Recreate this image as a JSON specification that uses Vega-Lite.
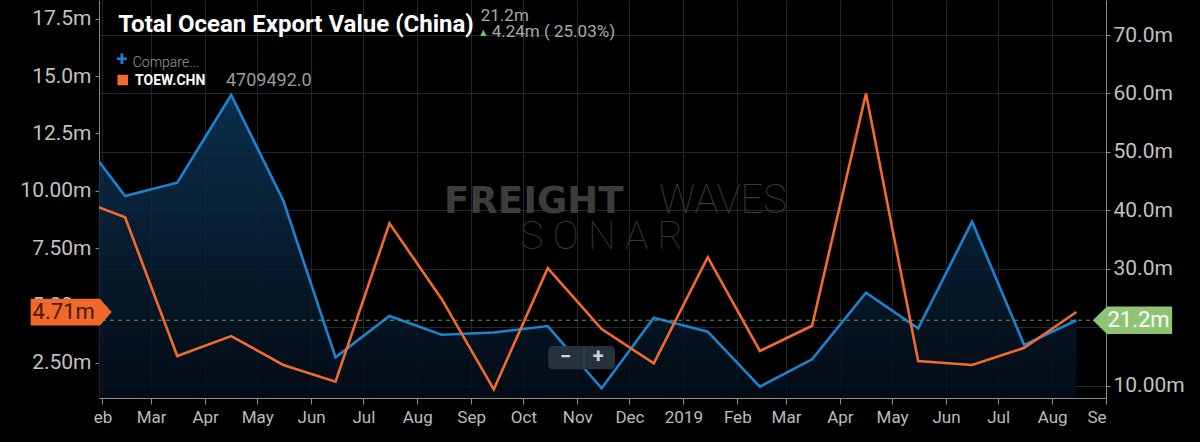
{
  "$schema": "https://vega.github.io/schema/vega-lite/v6.json",
  "width": 1007,
  "height": 398,
  "autosize": "none",
  "padding": {"left": 99, "top": 0, "right": 94, "bottom": 44},
  "background": "#000000",
  "config": {
    "view": {"stroke": null},
    "axis": {
      "labelFont": "Roboto",
      "labelColor": "#c2c2c2",
      "domainColor": "#8a8a8a",
      "tickColor": "#8a8a8a",
      "gridColor": "#1d2833",
      "zindex": 0
    }
  },
  "datasets": {
    "ocean": [
      {"date": "2018-01-15", "exports": 54190000, "toew": 9710000},
      {"date": "2018-02-14", "exports": 42460000, "toew": 8840000},
      {"date": "2018-03-16", "exports": 44730000, "toew": 2790000},
      {"date": "2018-04-16", "exports": 59740000, "toew": 3660000},
      {"date": "2018-05-16", "exports": 41650000, "toew": 2400000},
      {"date": "2018-06-15", "exports": 14860000, "toew": 1670000},
      {"date": "2018-07-16", "exports": 21920000, "toew": 8580000},
      {"date": "2018-08-15", "exports": 18730000, "toew": 5280000},
      {"date": "2018-09-14", "exports": 19100000, "toew": 1340000},
      {"date": "2018-10-15", "exports": 20210000, "toew": 6620000},
      {"date": "2018-11-15", "exports": 9560000, "toew": 3970000},
      {"date": "2018-12-15", "exports": 21630000, "toew": 2470000},
      {"date": "2019-01-15", "exports": 19240000, "toew": 7100000},
      {"date": "2019-02-14", "exports": 9830000, "toew": 3010000},
      {"date": "2019-03-16", "exports": 14520000, "toew": 4110000},
      {"date": "2019-04-16", "exports": 25910000, "toew": 14240000},
      {"date": "2019-05-16", "exports": 19820000, "toew": 2570000},
      {"date": "2019-06-16", "exports": 38060000, "toew": 2400000},
      {"date": "2019-07-16", "exports": 16960000, "toew": 3150000},
      {"date": "2019-08-15", "exports": 21200000, "toew": 4709492}
    ]
  },
  "layer": [
    {
      "layer": [
        {
          "data": {"name": "ocean"},
          "mark": {
            "type": "area",
            "clip": true,
            "opacity": 0.85,
            "fill": {
              "gradient": "linear", "x1": 0, "y1": 0, "x2": 0, "y2": 1,
              "stops": [
                {"offset": 0, "color": "#0d3658"},
                {"offset": 0.5, "color": "#071d31"},
                {"offset": 1, "color": "#020810"}
              ]
            }
          },
          "encoding": {
            "x": {
              "field": "date", "type": "temporal",
              "scale": {"type": "utc", "domain": [{"year": 2018, "month": 1, "date": 30, "utc": true}, {"year": 2019, "month": 9, "date": 1, "utc": true}]},
              "axis": {
                "title": null, "grid": true, "tickSize": 6, "labelPadding": 5, "labelFontSize": 17, "labelColor": "#bcbcbc",
                "values": [
                  {"year": 2018, "month": 2, "date": 1, "utc": true}, {"year": 2018, "month": 3, "date": 1, "utc": true},
                  {"year": 2018, "month": 4, "date": 1, "utc": true}, {"year": 2018, "month": 5, "date": 1, "utc": true},
                  {"year": 2018, "month": 6, "date": 1, "utc": true}, {"year": 2018, "month": 7, "date": 1, "utc": true},
                  {"year": 2018, "month": 8, "date": 1, "utc": true}, {"year": 2018, "month": 9, "date": 1, "utc": true},
                  {"year": 2018, "month": 10, "date": 1, "utc": true}, {"year": 2018, "month": 11, "date": 1, "utc": true},
                  {"year": 2018, "month": 12, "date": 1, "utc": true}, {"year": 2019, "month": 1, "date": 1, "utc": true},
                  {"year": 2019, "month": 2, "date": 1, "utc": true}, {"year": 2019, "month": 3, "date": 1, "utc": true},
                  {"year": 2019, "month": 4, "date": 1, "utc": true}, {"year": 2019, "month": 5, "date": 1, "utc": true},
                  {"year": 2019, "month": 6, "date": 1, "utc": true}, {"year": 2019, "month": 7, "date": 1, "utc": true},
                  {"year": 2019, "month": 8, "date": 1, "utc": true}, {"year": 2019, "month": 9, "date": 1, "utc": true}
                ],
                "labelExpr": "datum.index == 0 ? 'eb' : datum.index == 1 ? 'Se' : (utcmonth(datum.value) == 0 ? utcFormat(datum.value, '%Y') : utcFormat(datum.value, '%b'))",
                "labelAlign": {"condition": {"test": "datum.index == 1", "value": "right"}, "value": "center"}
              }
            },
            "y": {
              "field": "exports", "type": "quantitative",
              "scale": {"domain": [7896000, 75988000], "nice": false, "zero": false},
              "axis": {
                "title": null, "orient": "right", "grid": true, "tickSize": 4, "labelPadding": 3, "labelFontSize": 21,
                "values": [10000000, 20000000, 30000000, 40000000, 50000000, 60000000, 70000000],
                "labelExpr": "datum.value == 10000000 ? '10.00m' : replace(format(datum.value, '.3s'), 'M', 'm')"
              }
            }
          }
        },
        {
          "data": {"values": [{"label": "FREIGHT"}]},
          "mark": {"type": "text", "align": "left", "baseline": "alphabetic", "font": "DejaVu Sans", "fontWeight": "bold", "fontSize": 37, "color": "#3c3c3c"},
          "encoding": {
            "x": {"datum": {"year": 2018, "month": 8, "date": 16, "hours": 10, "utc": true}, "type": "temporal"},
            "y": {"datum": 39598000, "type": "quantitative"},
            "text": {"field": "label"}
          }
        },
        {
          "data": {"values": [{"label": "WAVES"}]},
          "mark": {"type": "text", "align": "right", "baseline": "alphabetic", "font": "Roboto", "fontWeight": 100, "fontSize": 40, "color": "#3a3a3a"},
          "encoding": {
            "x": {"datum": {"year": 2019, "month": 3, "date": 1, "hours": 14, "utc": true}, "type": "temporal"},
            "y": {"datum": 39598000, "type": "quantitative"},
            "text": {"field": "label"}
          }
        },
        {
          "data": {"values": [{"label": "S O N A R"}]},
          "mark": {"type": "text", "align": "center", "baseline": "alphabetic", "font": "Roboto", "fontWeight": 100, "fontSize": 39, "color": "#363636"},
          "encoding": {
            "x": {"datum": {"year": 2018, "month": 11, "date": 15, "utc": true}, "type": "temporal"},
            "y": {"datum": 33336000, "type": "quantitative"},
            "text": {"field": "label"}
          }
        },
        {
          "data": {"name": "ocean"},
          "mark": {"type": "line", "clip": true, "color": "#1b84d2", "strokeWidth": 2.6},
          "encoding": {
            "x": {"field": "date", "type": "temporal"},
            "y": {"field": "exports", "type": "quantitative"}
          }
        },
        {
          "data": {"values": [{"last": 21200000}]},
          "mark": {"type": "rule", "color": "#6a9a44", "strokeWidth": 1, "strokeDash": [4, 4]},
          "encoding": {
            "y": {"field": "last", "type": "quantitative"}
          }
        },
        {
          "data": {"values": [{"last": 21200000}]},
          "mark": {"type": "point", "filled": true, "opacity": 1, "color": "#8ec474", "size": 6288, "shape": "M -1 0 L -0.64 -0.344 L 1 -0.344 L 1 0.344 L -0.64 0.344 Z"},
          "encoding": {
            "x": {"datum": {"year": 2019, "month": 9, "date": 16, "hours": 5, "utc": true}, "type": "temporal"},
            "y": {"field": "last", "type": "quantitative"}
          }
        },
        {
          "data": {"values": [{"last": 21200000, "label": "21.2m"}]},
          "mark": {"type": "text", "align": "center", "baseline": "middle", "font": "Roboto", "fontSize": 22, "color": "#ffffff"},
          "encoding": {
            "x": {"datum": {"year": 2019, "month": 9, "date": 19, "hours": 17, "utc": true}, "type": "temporal"},
            "y": {"field": "last", "type": "quantitative"},
            "text": {"field": "label"}
          }
        }
      ]
    },
    {
      "layer": [
        {
          "data": {"name": "ocean"},
          "mark": {"type": "line", "clip": true, "color": "#f26a2d", "strokeWidth": 2.6},
          "encoding": {
            "x": {"field": "date", "type": "temporal"},
            "y": {
              "field": "toew", "type": "quantitative",
              "scale": {"domain": [960500, 18318000], "nice": false, "zero": false},
              "axis": {
                "title": null, "orient": "left", "grid": false, "tickSize": 4, "labelPadding": 4, "labelFontSize": 21,
                "values": [2500000, 5000000, 7500000, 10000000, 12500000, 15000000, 17500000],
                "labelExpr": "datum.value == 10000000 ? '10.00m' : replace(format(datum.value, '.3s'), 'M', 'm')"
              }
            }
          }
        },
        {
          "data": {"values": [{"latest": 4709492}]},
          "mark": {"type": "point", "filled": true, "opacity": 1, "color": "#f0692c", "size": 6561, "shape": "M -1 -0.33 L 0.71 -0.33 L 1 0 L 0.71 0.33 L -1 0.33 Z"},
          "encoding": {
            "x": {"datum": {"year": 2018, "month": 1, "date": 14, "utc": true}, "type": "temporal"},
            "y": {"field": "latest", "type": "quantitative"}
          }
        },
        {
          "data": {"values": [{"latest": 4709492, "label": "4.71m"}]},
          "mark": {"type": "text", "align": "center", "baseline": "middle", "font": "Roboto", "fontSize": 22, "color": "#4a1a06"},
          "encoding": {
            "x": {"datum": {"year": 2018, "month": 1, "date": 9, "hours": 16, "utc": true}, "type": "temporal"},
            "y": {"field": "latest", "type": "quantitative"},
            "text": {"field": "label"}
          }
        },
        {
          "data": {"values": [{"label": "Total Ocean Export Value (China)"}]},
          "mark": {"type": "text", "align": "left", "baseline": "alphabetic", "font": "Roboto", "fontWeight": "bold", "fontSize": 24, "color": "#ffffff"},
          "encoding": {
            "x": {"datum": {"year": 2018, "month": 2, "date": 10, "hours": 2, "utc": true}, "type": "temporal"},
            "y": {"datum": 16935000, "type": "quantitative"},
            "text": {"field": "label"}
          }
        },
        {
          "data": {"values": [{"label": "21.2m"}]},
          "mark": {"type": "text", "align": "left", "baseline": "alphabetic", "font": "Roboto", "fontSize": 17, "color": "#a9a9a9"},
          "encoding": {
            "x": {"datum": {"year": 2018, "month": 9, "date": 6, "hours": 12, "utc": true}, "type": "temporal"},
            "y": {"datum": 17415000, "type": "quantitative"},
            "text": {"field": "label"}
          }
        },
        {
          "data": {"values": [{"label": "▲"}]},
          "mark": {"type": "text", "align": "center", "baseline": "middle", "font": "DejaVu Sans", "fontSize": 8, "color": "#7dc36b"},
          "encoding": {
            "x": {"datum": {"year": 2018, "month": 9, "date": 7, "hours": 23, "utc": true}, "type": "temporal"},
            "y": {"datum": 16865000, "type": "quantitative"},
            "text": {"field": "label"}
          }
        },
        {
          "data": {"values": [{"label": "4.24m ( 25.03%)"}]},
          "mark": {"type": "text", "align": "left", "baseline": "alphabetic", "font": "Roboto", "fontSize": 17, "color": "#a9a9a9"},
          "encoding": {
            "x": {"datum": {"year": 2018, "month": 9, "date": 12, "hours": 19, "utc": true}, "type": "temporal"},
            "y": {"datum": 16691000, "type": "quantitative"},
            "text": {"field": "label"}
          }
        },
        {
          "data": {"values": [{"label": "+"}]},
          "mark": {"type": "text", "align": "center", "baseline": "middle", "font": "Roboto", "fontWeight": "bold", "fontSize": 20, "color": "#1f80d8"},
          "encoding": {
            "x": {"datum": {"year": 2018, "month": 2, "date": 12, "hours": 5, "utc": true}, "type": "temporal"},
            "y": {"datum": 15714000, "type": "quantitative"},
            "text": {"field": "label"}
          }
        },
        {
          "data": {"values": [{"label": "Compare..."}]},
          "mark": {"type": "text", "align": "left", "baseline": "alphabetic", "font": "Roboto", "fontWeight": 300, "fontSize": 14, "color": "#9a9a9a"},
          "encoding": {
            "x": {"datum": {"year": 2018, "month": 2, "date": 18, "hours": 9, "utc": true}, "type": "temporal"},
            "y": {"datum": 15409000, "type": "quantitative"},
            "text": {"field": "label"}
          }
        },
        {
          "data": {"values": [{"series": "TOEW.CHN"}]},
          "mark": {"type": "point", "shape": "square", "filled": true, "opacity": 1, "size": 110, "color": "#f26b2e"},
          "encoding": {
            "x": {"datum": {"year": 2018, "month": 2, "date": 12, "hours": 16, "utc": true}, "type": "temporal"},
            "y": {"datum": 14829000, "type": "quantitative"}
          }
        },
        {
          "data": {"values": [{"label": "TOEW.CHN"}]},
          "mark": {"type": "text", "align": "left", "baseline": "alphabetic", "font": "Roboto", "fontWeight": "bold", "fontSize": 14, "color": "#ffffff"},
          "encoding": {
            "x": {"datum": {"year": 2018, "month": 2, "date": 19, "hours": 17, "utc": true}, "type": "temporal"},
            "y": {"datum": 14611000, "type": "quantitative"},
            "text": {"field": "label"}
          }
        },
        {
          "data": {"values": [{"label": "4709492.0"}]},
          "mark": {"type": "text", "align": "left", "baseline": "alphabetic", "font": "Roboto", "fontSize": 18, "color": "#9b9b9b"},
          "encoding": {
            "x": {"datum": {"year": 2018, "month": 4, "date": 13, "utc": true}, "type": "temporal"},
            "y": {"datum": 14567000, "type": "quantitative"},
            "text": {"field": "label"}
          }
        },
        {
          "data": {"values": [{"control": "zoom"}]},
          "mark": {"type": "rect", "color": "#26333f", "cornerRadius": 4},
          "encoding": {
            "x": {"datum": {"year": 2018, "month": 10, "date": 15, "hours": 7, "utc": true}, "type": "temporal"},
            "x2": {"datum": {"year": 2018, "month": 11, "date": 22, "hours": 17, "utc": true}},
            "y": {"datum": 3228000, "type": "quantitative"},
            "y2": {"datum": 2212000}
          }
        },
        {
          "data": {"values": [{"control": "zoom"}]},
          "mark": {"type": "rule", "color": "#3c4a57", "strokeWidth": 1},
          "encoding": {
            "x": {"datum": {"year": 2018, "month": 11, "date": 4, "hours": 21, "utc": true}, "type": "temporal"},
            "y": {"datum": 3141000, "type": "quantitative"},
            "y2": {"datum": 2356000}
          }
        },
        {
          "data": {"values": [{"label": "−"}]},
          "mark": {"type": "text", "align": "center", "baseline": "middle", "font": "Roboto", "fontWeight": "bold", "fontSize": 20, "color": "#cfd4d8"},
          "encoding": {
            "x": {"datum": {"year": 2018, "month": 10, "date": 25, "hours": 7, "utc": true}, "type": "temporal"},
            "y": {"datum": 2762000, "type": "quantitative"},
            "text": {"field": "label"}
          }
        },
        {
          "data": {"values": [{"label": "+"}]},
          "mark": {"type": "text", "align": "center", "baseline": "middle", "font": "Roboto", "fontWeight": "bold", "fontSize": 20, "color": "#cfd4d8"},
          "encoding": {
            "x": {"datum": {"year": 2018, "month": 11, "date": 13, "hours": 2, "utc": true}, "type": "temporal"},
            "y": {"datum": 2762000, "type": "quantitative"},
            "text": {"field": "label"}
          }
        }
      ]
    }
  ],
  "resolve": {"scale": {"y": "independent"}, "axis": {"y": "independent"}}
}
